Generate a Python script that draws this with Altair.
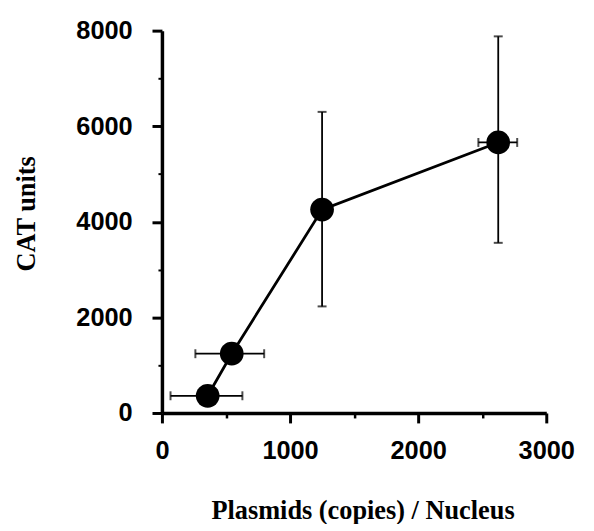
import altair as alt
import pandas as pd

# Data
plasmids = [357, 545, 1250, 2625]
cat_units = [360, 1240, 4255, 5660]
x_err_lo = [67, 261, None, 2470]
x_err_hi = [628, 798, None, 2773]
y_err_lo = [None, None, 2230, 3560]
y_err_hi = [None, None, 6300, 7880]

x_major = [0, 1000, 2000, 3000]
x_minor = [500, 1500, 2500]
y_major = [0, 2000, 4000, 6000, 8000]
y_minor = [1000, 3000, 5000, 7000]

df = pd.DataFrame({
    "x": plasmids, "y": cat_units,
    "xlo": x_err_lo, "xhi": x_err_hi,
    "ylo": y_err_lo, "yhi": y_err_hi,
})

xs = alt.Scale(domain=[0, 3000], nice=False, zero=True)
ys = alt.Scale(domain=[0, 8000], nice=False, zero=True)

tick_font = "Liberation Sans"
title_font = "Liberation Serif"

x_axis = alt.Axis(
    values=x_major, format="d", title="Plasmids (copies) /  Nucleus", orient="bottom",
    grid=False, domainColor="black", domainWidth=3.5, tickColor="black", tickWidth=3,
    tickSize=10, labelFont=tick_font, labelFontSize=25.5, labelFontWeight="bold",
    labelColor="black", labelPadding=16, labelFlush=False,
    titleFont=title_font, titleFontSize=26.5, titleFontWeight="bold", titleColor="black",
    titleX=202, titleY=106, titleBaseline="alphabetic", titleAlign="center",
)
y_axis = alt.Axis(
    values=y_major, format="d", title="CAT units", orient="left",
    grid=False, domainColor="black", domainWidth=3.5, tickColor="black", tickWidth=3,
    tickSize=10, labelFont=tick_font, labelFontSize=25.5, labelFontWeight="bold",
    labelColor="black", labelPadding=20, labelFlush=False,
    titleFont=title_font, titleFontSize=26.5, titleFontWeight="bold", titleColor="black",
    titleX=-128, titleY=184, titleAngle=270, titleBaseline="alphabetic", titleAlign="center",
)

base = alt.Chart(df)

line = base.mark_line(color="black", strokeWidth=2.8).encode(
    x=alt.X("x:Q", scale=xs, axis=x_axis),
    y=alt.Y("y:Q", scale=ys, axis=y_axis),
)

minor = base.mark_point(opacity=0).encode(
    x=alt.X("x:Q", scale=xs, axis=alt.Axis(values=x_minor, orient="bottom", labels=False,
                                           domain=False, grid=False, title=None,
                                           tickColor="black", tickWidth=2.5, tickSize=5)),
    y=alt.Y("y:Q", scale=ys, axis=alt.Axis(values=y_minor, orient="left", labels=False,
                                           domain=False, grid=False, title=None,
                                           tickColor="black", tickWidth=2, tickSize=4)),
)

def X(field):
    return alt.X(field, type="quantitative", scale=xs)

def Y(field):
    return alt.Y(field, type="quantitative", scale=ys)

xbar = base.transform_filter("isValid(datum.xlo)").mark_rule(color="black", strokeWidth=1.8).encode(
    x=X("xlo"), x2="xhi:Q", y=Y("y"))
xcap_lo = base.transform_filter("isValid(datum.xlo)").mark_tick(
    color="black", orient="vertical", size=9, thickness=2).encode(x=X("xlo"), y=Y("y"))
xcap_hi = base.transform_filter("isValid(datum.xhi)").mark_tick(
    color="black", orient="vertical", size=9, thickness=2).encode(x=X("xhi"), y=Y("y"))

ybar = base.transform_filter("isValid(datum.ylo)").mark_rule(color="black", strokeWidth=1.8).encode(
    x=X("x"), y=Y("ylo"), y2="yhi:Q")
ycap_lo = base.transform_filter("isValid(datum.ylo)").mark_tick(
    color="black", orient="horizontal", size=9, thickness=2).encode(x=X("x"), y=Y("ylo"))
ycap_hi = base.transform_filter("isValid(datum.yhi)").mark_tick(
    color="black", orient="horizontal", size=9, thickness=2).encode(x=X("x"), y=Y("yhi"))

points = base.mark_circle(color="black", opacity=1, size=570).encode(x=X("x"), y=Y("y"))

main = alt.layer(line, xbar, xcap_lo, xcap_hi, ybar, ycap_lo, ycap_hi, points)

chart = alt.layer(minor, main).resolve_axis(x="independent", y="independent").properties(
    width=387, height=385,
    autosize=alt.AutoSizeParams(type="none"),
    padding={"left": 155, "top": 21, "right": 40, "bottom": 110},
).configure_view(stroke=None).configure_axis(grid=False)

chart.save("out.html", embed_options={"renderer": "svg", "actions": False})
